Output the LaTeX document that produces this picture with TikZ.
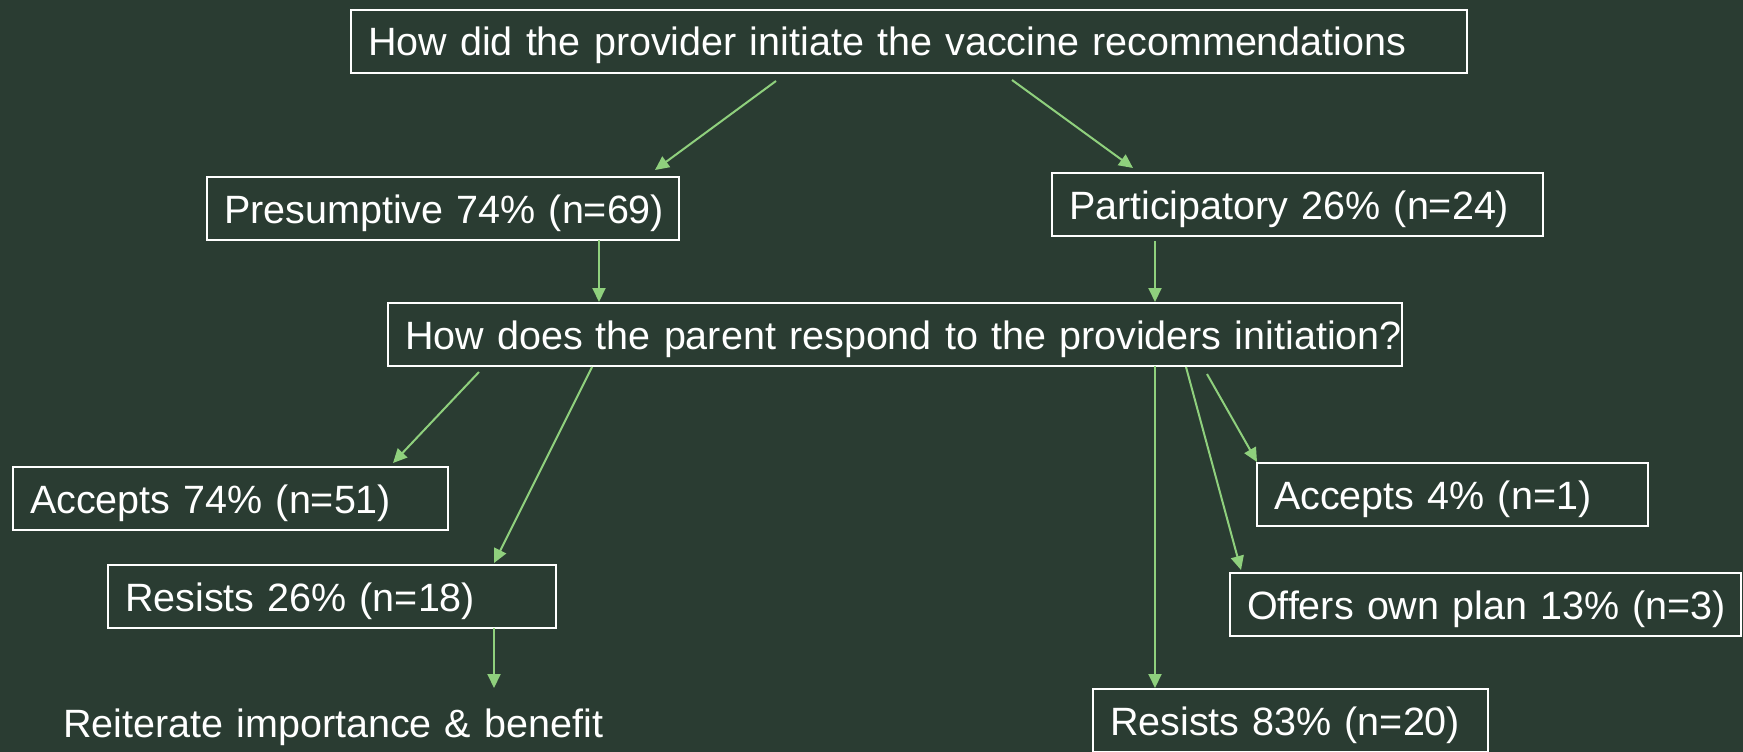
\documentclass[tikz,border=0pt]{standalone}
\usepackage{fontspec}
\setmainfont{Liberation Sans}
\usetikzlibrary{arrows.meta,calc}
\definecolor{bg}{RGB}{42,60,50}
\definecolor{arr}{RGB}{143,208,125}
\begin{document}
\begin{tikzpicture}[x=1pt,y=-1pt,
  box/.style={draw=white, line width=2pt, outer sep=0pt, inner xsep=17pt, inner ysep=0pt,
    text height=46pt, text depth=17pt, align=left, text=white,
    font=\fontsize{39.5}{47}\selectfont, anchor=north west},
  plaintext/.style={box, draw=none, inner xsep=0pt},
  conn/.style={draw=arr, line width=2pt, -{Triangle[length=14pt,width=13pt]}}]
\fill[bg] (0,0) rectangle (1743,752);
\useasboundingbox (0,0) rectangle (1743,752);

\node[box, text width=1082pt] (top) at (351,10) {\mbox{How did the provider initiate the vaccine recommendations}};
\node[box, text width=438pt] (pres) at (207,177) {\mbox{Presumptive 74\% (n=69)}};
\node[box, text width=457pt] (part) at (1052,173) {\mbox{Participatory 26\% (n=24)}};
\node[box, text width=980pt] (q2) at (388,303) {\mbox{How does the parent respond to the providers initiation?}};
\node[box, text width=401pt] (acc1) at (13,467) {\mbox{Accepts 74\% (n=51)}};
\node[box, text width=414pt] (res1) at (108,565) {\mbox{Resists 26\% (n=18)}};
\node[plaintext, text width=560pt] (reit) at (63,691) {\mbox{Reiterate importance \& benefit}};
\node[box, text width=357pt] (acc2) at (1257,463) {\mbox{Accepts 4\% (n=1)}};
\node[box, text width=477pt] (offers) at (1230,573) {\mbox{Offers own plan 13\% (n=3)}};
\node[box, text width=361pt] (res2) at (1093,689) {\mbox{Resists 83\% (n=20)}};

\draw[conn] ($(top.south west)+(425,8)$) -- ($(pres.north west)+(448,-7)$);
\draw[conn] ($(top.south west)+(661,7)$) -- ($(part.north west)+(81,-5)$);
\draw[conn] ($(pres.south west)+(392,0)$) -- ($(q2.north west)+(211,-1)$);
\draw[conn] ($(part.south west)+(103,5)$) -- ($(q2.north west)+(767,-1)$);
\draw[conn] ($(q2.south west)+(91,6)$) -- ($(acc1.north west)+(380,-4)$);
\draw[conn] ($(q2.south west)+(204,1)$) -- ($(res1.north west)+(386,-2)$);
\draw[conn] ($(res1.south west)+(386,0)$) -- ($(reit.north west)+(431,-3)$);
\draw[conn] ($(q2.south west)+(767,0)$) -- ($(res2.north west)+(62,-1)$);
\draw[conn] ($(q2.south west)+(798,1)$) -- ($(offers.north west)+(11,-3)$);
\draw[conn] ($(q2.south west)+(819,8)$) -- ($(acc2.north west)+(0,-1)$);
\end{tikzpicture}
\end{document}
